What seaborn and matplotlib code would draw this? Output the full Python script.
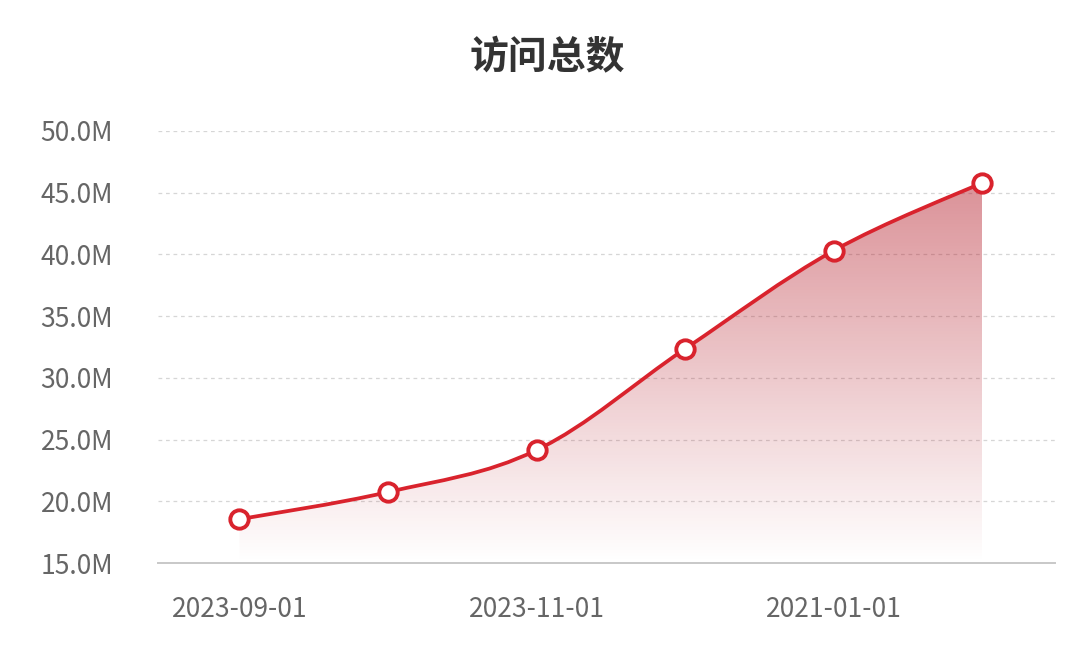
import numpy as np
import seaborn as sns
import matplotlib.pyplot as plt
from matplotlib.path import Path
from matplotlib.patches import PathPatch
from matplotlib.colors import LinearSegmentedColormap

# data
dates = ['2023-09-01', '2023-10-01', '2023-11-01', '2023-12-01', '2021-01-01', '2021-02-01']
visits = [18.55, 20.75, 24.15, 32.35, 40.3, 45.8]   # millions
shown_labels = ['2023-09-01', '', '2023-11-01', '', '2021-01-01', '']
y_ticks = [15, 20, 25, 30, 35, 40, 45, 50]
title = '访问总数'

red = '#d9232d'

sns.set_theme(style='white')
plt.rcParams['font.family'] = ['Noto Sans CJK SC', 'DejaVu Sans']

fig = plt.figure(figsize=(10.8, 6.64), dpi=100)
ax = fig.add_axes([0.146, 0.152, 0.831, 0.651])

x = np.arange(len(visits), dtype=float)
y = np.array(visits)


def smooth_path(xs, ys, k=0.35):
    # cubic bezier through the points (echarts-like smooth line)
    verts = [(xs[0], ys[0])]
    codes = [Path.MOVETO]
    n = len(xs)
    for i in range(n - 1):
        p0 = np.array([xs[max(i - 1, 0)], ys[max(i - 1, 0)]])
        p1 = np.array([xs[i], ys[i]])
        p2 = np.array([xs[i + 1], ys[i + 1]])
        p3 = np.array([xs[min(i + 2, n - 1)], ys[min(i + 2, n - 1)]])
        c1 = p1 + (p2 - p0) * k / 2
        c2 = p2 - (p3 - p1) * k / 2
        verts += [tuple(c1), tuple(c2), tuple(p2)]
        codes += [Path.CURVE4] * 3
    return verts, codes


verts, codes = smooth_path(x, y)

# gradient area under the curve
area_verts = verts + [(x[-1], y_ticks[0]), (x[0], y_ticks[0]), verts[0]]
area_codes = codes + [Path.LINETO, Path.LINETO, Path.CLOSEPOLY]
area = PathPatch(Path(area_verts, area_codes), facecolor='none', edgecolor='none')
ax.add_patch(area)
cmap = LinearSegmentedColormap.from_list('fade', [(0.70, 0.09, 0.14, 0.0), (0.70, 0.09, 0.14, 0.47)])
grad = np.linspace(0, 1, 256).reshape(-1, 1)
img = ax.imshow(grad, cmap=cmap, origin='lower', aspect='auto',
                extent=[x[0], x[-1], y_ticks[0], y.max()], zorder=1)
img.set_clip_path(area)

# smooth line + markers
ax.add_patch(PathPatch(Path(verts, codes), facecolor='none', edgecolor=red,
                       lw=2.7, zorder=3, capstyle='round', joinstyle='round'))
sns.scatterplot(x=x, y=y, ax=ax, s=175, color='white', edgecolor=red,
                linewidth=2.8, zorder=4)

ax.set_xlim(-0.55, 5.49)
ax.set_ylim(15, 50)
ax.set_yticks(y_ticks)
ax.set_yticklabels([f'{v:.1f}M' for v in y_ticks])
ax.set_xticks(x)
ax.set_xticklabels(shown_labels)

for v in y_ticks[1:]:
    ax.axhline(v, color='#d6d6d6', lw=0.9, ls=(0, (3, 3)), zorder=0)

for s in ['top', 'right', 'left']:
    ax.spines[s].set_visible(False)
ax.spines['bottom'].set_color('#c8c8c8')
ax.spines['bottom'].set_linewidth(1.4)

ax.tick_params(axis='y', length=0, pad=32, labelsize=19, labelcolor='#666666')
ax.tick_params(axis='x', length=0, pad=24, labelsize=19, labelcolor='#666666')

fig.text(0.507, 0.913, title, ha='center', va='center', fontsize=28,
         fontweight='bold', color='#333333')

fig.savefig('out.png', dpi=100, facecolor='white')
